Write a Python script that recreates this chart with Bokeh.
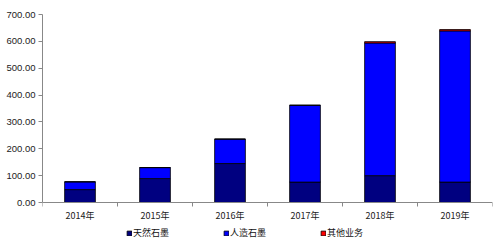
from bokeh.plotting import figure
from bokeh.models import ColumnDataSource, FixedTicker, NumeralTickFormatter, Range1d, Legend
from bokeh.embed import file_html
from bokeh.resources import INLINE

years = ["2014年", "2015年", "2016年", "2017年", "2018年", "2019年"]
natural = [48, 89, 145, 76, 100, 76]
artificial = [29, 41, 91, 286, 494, 563]
other = [0, 0, 0, 0, 5, 5]
series_names = ["天然石墨", "人造石墨", "其他业务"]
y_ticks = [0, 100, 200, 300, 400, 500, 600, 700]

xs = [i + 0.5 for i in range(len(years))]
src = ColumnDataSource(dict(x=xs, natural=natural, artificial=artificial, other=other))

# frame covers plot + the strip below it (axis labels and legend)
p = figure(frame_width=450, frame_height=235, output_backend="svg", toolbar_location=None,
           x_range=Range1d(0, len(years)), y_range=Range1d(-175, 700),
           min_border_left=42, min_border_right=3, min_border_top=14, min_border_bottom=0)
p.outline_line_color = None
p.grid.grid_line_color = None
p.background_fill_color = "white"
p.border_fill_color = "white"

r = p.vbar_stack(["natural", "artificial", "other"], x="x", width=0.41, source=src,
                 color=["#000080", "#0000FF", "#FF0000"], line_color="black", line_width=0.8)

font = "Liberation Sans"
p.yaxis.ticker = FixedTicker(ticks=y_ticks)
p.yaxis.bounds = (0, 700)
p.yaxis.formatter = NumeralTickFormatter(format="0.00")
p.yaxis.major_label_text_font = font
p.yaxis.major_label_text_font_size = "9.5px"
p.yaxis.major_label_text_color = "#222222"
p.yaxis.axis_line_color = "#888888"
p.yaxis.major_tick_line_color = "#888888"
p.yaxis.major_tick_out = 4
p.yaxis.major_tick_in = 0
p.yaxis.minor_tick_line_color = None
p.yaxis.major_label_standoff = 3

p.xaxis.fixed_location = 0
p.xaxis.ticker = FixedTicker(ticks=xs, minor_ticks=list(range(len(years) + 1)))
p.xaxis.major_label_overrides = {x: y for x, y in zip(xs, years)}
p.xaxis.major_label_text_font = "Noto Sans CJK SC"
p.xaxis.major_label_text_font_size = "9px"
p.xaxis.major_label_text_color = "#222222"
p.xaxis.axis_line_color = "#888888"
p.xaxis.major_tick_line_color = None
p.xaxis.minor_tick_line_color = "#888888"
p.xaxis.minor_tick_out = 4
p.xaxis.minor_tick_in = 0
p.xaxis.major_label_standoff = 0

legend = Legend(items=[(n, [g]) for n, g in zip(series_names, r)], orientation="horizontal",
                location=(84, 10), glyph_width=6, glyph_height=6, label_standoff=1, spacing=54,
                padding=0, margin=0, border_line_color=None, background_fill_alpha=0,
                label_text_font="Noto Sans CJK SC", label_text_font_size="9px",
                label_text_color="#111111", label_height=10)
p.add_layout(legend, "center")

open("out.html", "w").write(file_html(p, INLINE))
